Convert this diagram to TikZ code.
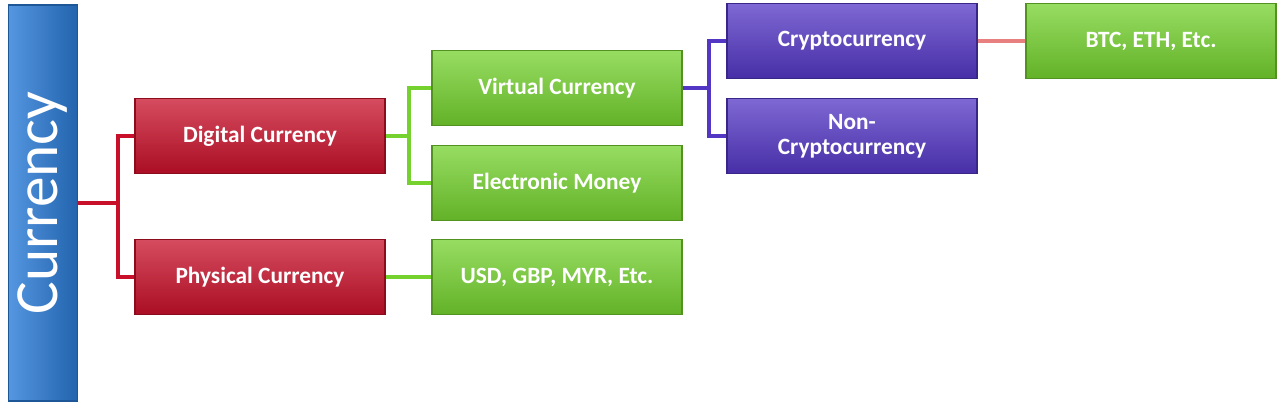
\documentclass[tikz,border=0pt]{standalone}
\usepackage{fontspec}
\setmainfont{Carlito}
\begin{document}
\begin{tikzpicture}[x=0.75pt,y=-0.75pt,
  bx/.style={draw=#1!70!black,line width=0.8pt,minimum width=187.5pt,minimum height=56pt,
    top color=#1!75!white,bottom color=#1!85!black,text=white,font=\fontsize{17.5}{19}\selectfont\bfseries,align=center,inner sep=1pt},
  ln/.style={line width=3pt,draw=#1}]
\definecolor{cred}{HTML}{C8102A}
\definecolor{cgreen}{HTML}{74D12E}
\definecolor{cpurp}{HTML}{5336C4}
\definecolor{cblue}{HTML}{2B7CD9}
\definecolor{lred}{HTML}{E88080}
\useasboundingbox (0,0) rectangle (1284,411);
\node[draw=cblue!70!black,line width=0.8pt,left color=cblue!80!white,right color=cblue!80!black,minimum width=297pt,minimum height=52pt,rotate=90,text=white,font=\fontsize{46}{48}\selectfont] (cur) at (43,203) {Currency};
\node[bx=cred] (dig) at (260,136) {Digital Currency};
\node[bx=cred] (phy) at (260,277) {Physical Currency};
\node[bx=cgreen] (vir) at (557,88) {Virtual Currency};
\node[bx=cgreen] (ele) at (557,183) {Electronic Money};
\node[bx=cgreen] (usd) at (557,277) {USD, GBP, MYR, Etc.};
\node[bx=cpurp] (cry) at (852,41) {Cryptocurrency};
\node[bx=cpurp] (non) at (852,136) {Non-\\Cryptocurrency};
\node[bx=cgreen] (btc) at (1151,41) {BTC, ETH, Etc.};
\draw[ln=cred] (cur.south) -- ++(40,0) coordinate (j1);
\draw[ln=cred] (dig.west) -| (j1) |- (phy.west);
\draw[ln=cgreen] (dig.east) -- ++(23,0) coordinate (j2);
\draw[ln=cgreen] (vir.west) -| (j2) |- (ele.west);
\draw[ln=cgreen] (phy.east) -- (usd.west);
\draw[ln=cpurp] (vir.east) -- ++(26,0) coordinate (j3);
\draw[ln=cpurp] (cry.west) -| (j3) |- (non.west);
\draw[ln=lred] (cry.east) -- (btc.west);
\end{tikzpicture}
\end{document}
